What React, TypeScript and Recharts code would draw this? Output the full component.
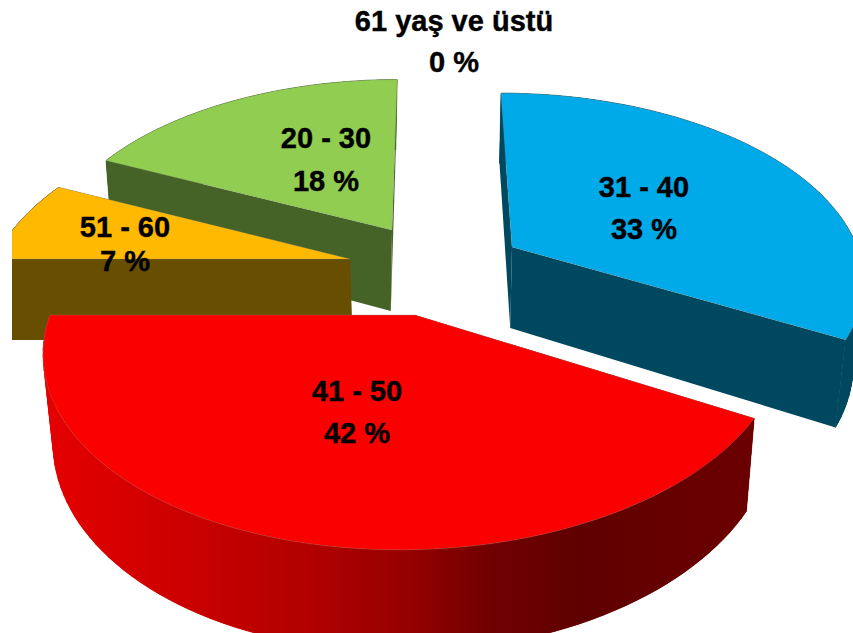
import React from 'react';
import { PieChart, Pie } from 'recharts';

const ageGroups = ['61 yaş ve üstü', '20 - 30', '51 - 60', '41 - 50', '31 - 40'];
const shares = [0, 18, 7, 42, 33];
const topColors = ['#7f7f7f', '#90cd50', '#ffb900', '#fa0000', '#00a9e8'];
const wallColors = ['#444444', '#456326', '#674e00', 'url(#redWall)', '#00485f'];

// how far each slice is pulled out of the centre, and its ellipse size
const explodeX = [0, -20, -62, 3, 100];
const explodeY = [0, -70, -41, 15, -53];
const radiusX = [340, 340, 355, 365, 345];
const radiusY = [175, 174, 180, 198, 178];
const skew = [0, -6, -25, -13, 12.7];
const wallDepth = [81, 81, 81, 86, 81];
const vanishX = [428, 330, 428, 428, 428];
// label placement relative to the pie centre
const labelDx = [42, -86, -287, -55, 232];
const labelLine1 = [-269, -152, -63, 101, -103];
const labelLine2 = [-228, -109, -29, 143, -61];

const W = 841;
const H = 633;
const CX = 400;
const CY = 300;
const R = 300;
const PERSPECTIVE = 0.157;
const LEAN = 0.025;

const data = ageGroups.map((name, i) => ({ name, value: shares[i] }));

type Pt = { x: number; y: number; d: number };

function project(i: number, cx: number, cy: number, deg: number): Pt {
  const a = (deg * Math.PI) / 180;
  const u = Math.cos(a);
  const v = -Math.sin(a);
  const d = 1 - PERSPECTIVE * v;
  return {
    x: cx + explodeX[i] + (radiusX[i] * u + skew[i] * v) / d,
    y: cy + explodeY[i] + (radiusY[i] * v) / d,
    d,
  };
}

function drop(i: number, p: Pt): Pt {
  return { x: p.x + (vanishX[i] - p.x) * LEAN, y: p.y + wallDepth[i] / p.d, d: p.d };
}

function toPath(pts: { x: number; y: number }[]) {
  return pts.map((p, i) => `${i ? 'L' : 'M'}${p.x.toFixed(1)},${p.y.toFixed(1)}`).join(' ') + ' Z';
}

function Slice(props: any) {
  const { cx, cy, startAngle, endAngle, index } = props;
  if (Math.abs(endAngle - startAngle) < 0.01) return null;
  const apex = { x: cx + explodeX[index], y: cy + explodeY[index], d: 1 };
  const apexLow = drop(index, apex);
  const rim: Pt[] = [];
  const steps = 80;
  for (let s = 0; s <= steps; s++) {
    rim.push(project(index, cx, cy, startAngle + ((endAngle - startAngle) * s) / steps));
  }
  const low = rim.map((p) => drop(index, p));
  const first = rim[0];
  const last = rim[steps];
  const wall = wallColors[index];
  return (
    <g>
      <defs>
        <linearGradient id="redWall" gradientUnits="userSpaceOnUse" x1={30} y1={0} x2={745} y2={0}>
          <stop offset="0" stopColor="#e60000" />
          <stop offset="0.22" stopColor="#c80000" />
          <stop offset="0.38" stopColor="#b00000" />
          <stop offset="0.52" stopColor="#940000" />
          <stop offset="0.62" stopColor="#720000" />
          <stop offset="0.75" stopColor="#5f0000" />
          <stop offset="1" stopColor="#6c0000" />
        </linearGradient>
      </defs>
      {/* quads fill the spot where the rim and its drop cross, the ribbon on top keeps it smooth */}
      {rim.slice(1).map((p, s) => (
        <path key={s} d={toPath([rim[s], p, low[s + 1], low[s]])} fill={wall} stroke={wall} strokeWidth={0.6} />
      ))}
      <path d={toPath([...rim, ...low.slice().reverse()])} fill={wall} />
      <path d={toPath([apex, first, low[0], apexLow])} fill={wall} />
      <path d={toPath([apex, last, low[steps], apexLow])} fill={wall} />
      <path d={toPath([apex, ...rim])} fill={topColors[index]} stroke="#8f9488" strokeOpacity={0.35} strokeWidth={0.8} />
    </g>
  );
}

function SliceLabel(props: any) {
  const { cx, cy, index } = props;
  const x = cx + labelDx[index];
  const style = { fontFamily: '"Liberation Sans", Arial, sans-serif', fontWeight: 700, fontSize: 29, fill: '#000' };
  return (
    <g>
      <text x={x} y={cy + labelLine1[index]} textAnchor="middle" stroke="#000" strokeWidth={0.4} style={style}>
        {ageGroups[index]}
      </text>
      <text x={x} y={cy + labelLine2[index]} textAnchor="middle" stroke="#000" strokeWidth={0.4} style={style}>
        {`${shares[index]} %`}
      </text>
    </g>
  );
}

export default function App() {
  return (
    <div style={{ position: 'absolute', left: 12, top: 0, width: W, height: H, overflow: 'hidden', background: '#fff' }}>
      <PieChart width={W} height={H} margin={{ top: 0, right: 0, bottom: 0, left: 0 }}>
        <Pie
          data={data}
          dataKey="value"
          nameKey="name"
          cx={CX}
          cy={CY}
          outerRadius={R}
          startAngle={90}
          endAngle={450}
          stroke="none"
          shape={Slice}
          label={SliceLabel}
          labelLine={false}
          isAnimationActive={false}
        />
      </PieChart>
    </div>
  );
}
